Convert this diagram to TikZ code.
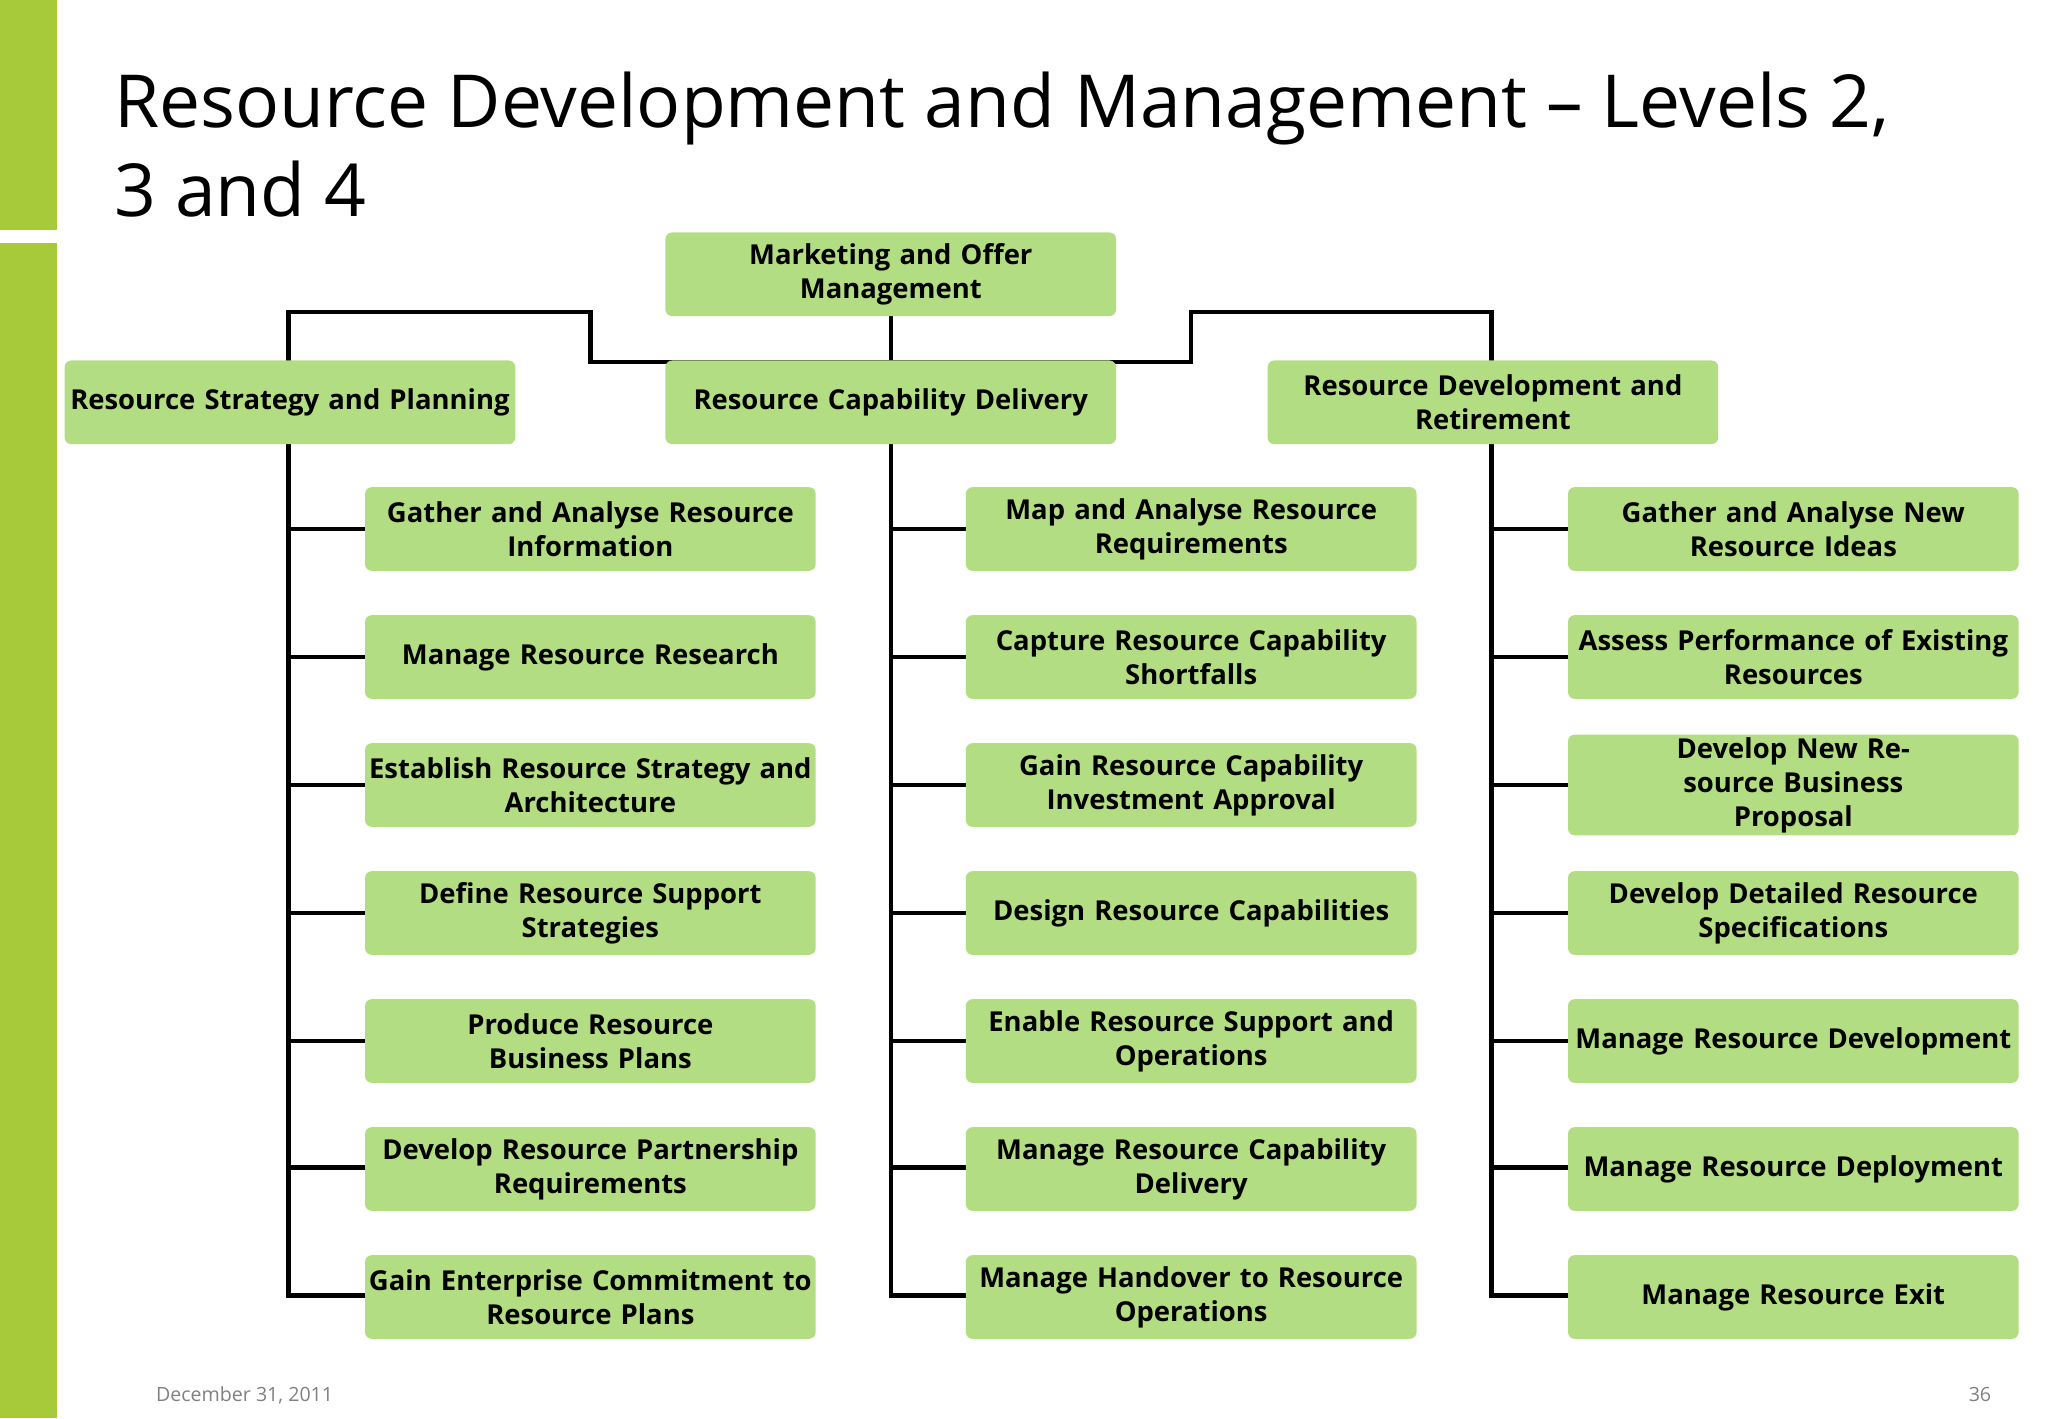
\documentclass[tikz,border=0pt]{standalone}
\usepackage{fontspec}
\setmainfont{Open Sans}
\definecolor{bargreen}{RGB}{166,202,58}
\definecolor{boxgreen}{RGB}{178,221,130}
\begin{document}
\begin{tikzpicture}[x=1pt,y=-1pt,
 bx/.style={fill=boxgreen,rounded corners=5pt,minimum width=345pt,minimum height=64pt,inner sep=2pt,align=center,text width=340pt,font=\fontsize{21}{26}\selectfont\bfseries},
 ln/.style={line width=3.5pt,line cap=rect}]
\useasboundingbox (0,0) rectangle (1568,1086);
\fill[bargreen] (0,0) rectangle (44,176);
\fill[bargreen] (0,186) rectangle (44,1086);
\node[anchor=base west,font=\fontsize{56}{68}\selectfont] (t1) at (84,98) {Resource Development and Management -- Levels 2,};
\node[anchor=base west,font=\fontsize{56}{68}\selectfont] (t2) at (84,166) {3 and 4};
\node[anchor=base west,font=\fontsize{15}{18}\selectfont,text=gray] (d) at (116,1073) {December 31, 2011};
\node[anchor=base east,font=\fontsize{15}{18}\selectfont,text=gray] (p) at (1528,1073) {36};
% connectors
\coordinate (tb) at (682,242);
\draw[ln] (682,242) -- (682,277);
\draw[ln] (221,276) -- (221,239) -- (452,239) -- (452,277) -- (912,277) -- (912,239) -- (1142,239) -- (1142,276);
\foreach \x in {221,682,1142}{
 \draw[ln] (\x,340) -- (\x,992);
 \foreach \y in {405,503,601,699,797,894,992}{\draw[ln] (\x,\y) -- (\x+59,\y);}
}
\node[bx] (top) at (682,210) {Marketing and Offer\\Management};
\node[bx] (l2a) at (222,308) {Resource Strategy and Planning};
\node[bx] (l2b) at (682,308) {Resource Capability Delivery};
\node[bx] (l2c) at (1143,308) {Resource Development and\\Retirement};
\foreach [count=\i] \t in {{Gather and Analyse Resource\\Information},{Manage Resource Research},{Establish Resource Strategy and\\Architecture},{Define Resource Support\\Strategies},{Produce Resource Business Plans},{Develop Resource Partnership\\Requirements},{Gain Enterprise Commitment to\\Resource Plans}}
 \node[bx] (a\i) at (452,307+98*\i) {\t};
\foreach [count=\i] \t in {{Map and Analyse Resource\\Requirements},{Capture Resource Capability\\Shortfalls},{Gain Resource Capability\\Investment Approval},{Design Resource Capabilities},{Enable Resource Support and\\Operations},{Manage Resource Capability\\Delivery},{Manage Handover to Resource\\Operations}}
 \node[bx] (b\i) at (912,307+98*\i) {\t};
\foreach [count=\i] \t in {{Gather and Analyse New\\Resource Ideas},{Assess Performance of Existing\\Resources},{Develop New Resource Business\\Proposal},{Develop Detailed Resource\\Specifications},{Manage Resource Development},{Manage Resource Deployment},{Manage Resource Exit}}
 \node[bx] (c\i) at (1373,307+98*\i) {\t};
\end{tikzpicture}
\end{document}
